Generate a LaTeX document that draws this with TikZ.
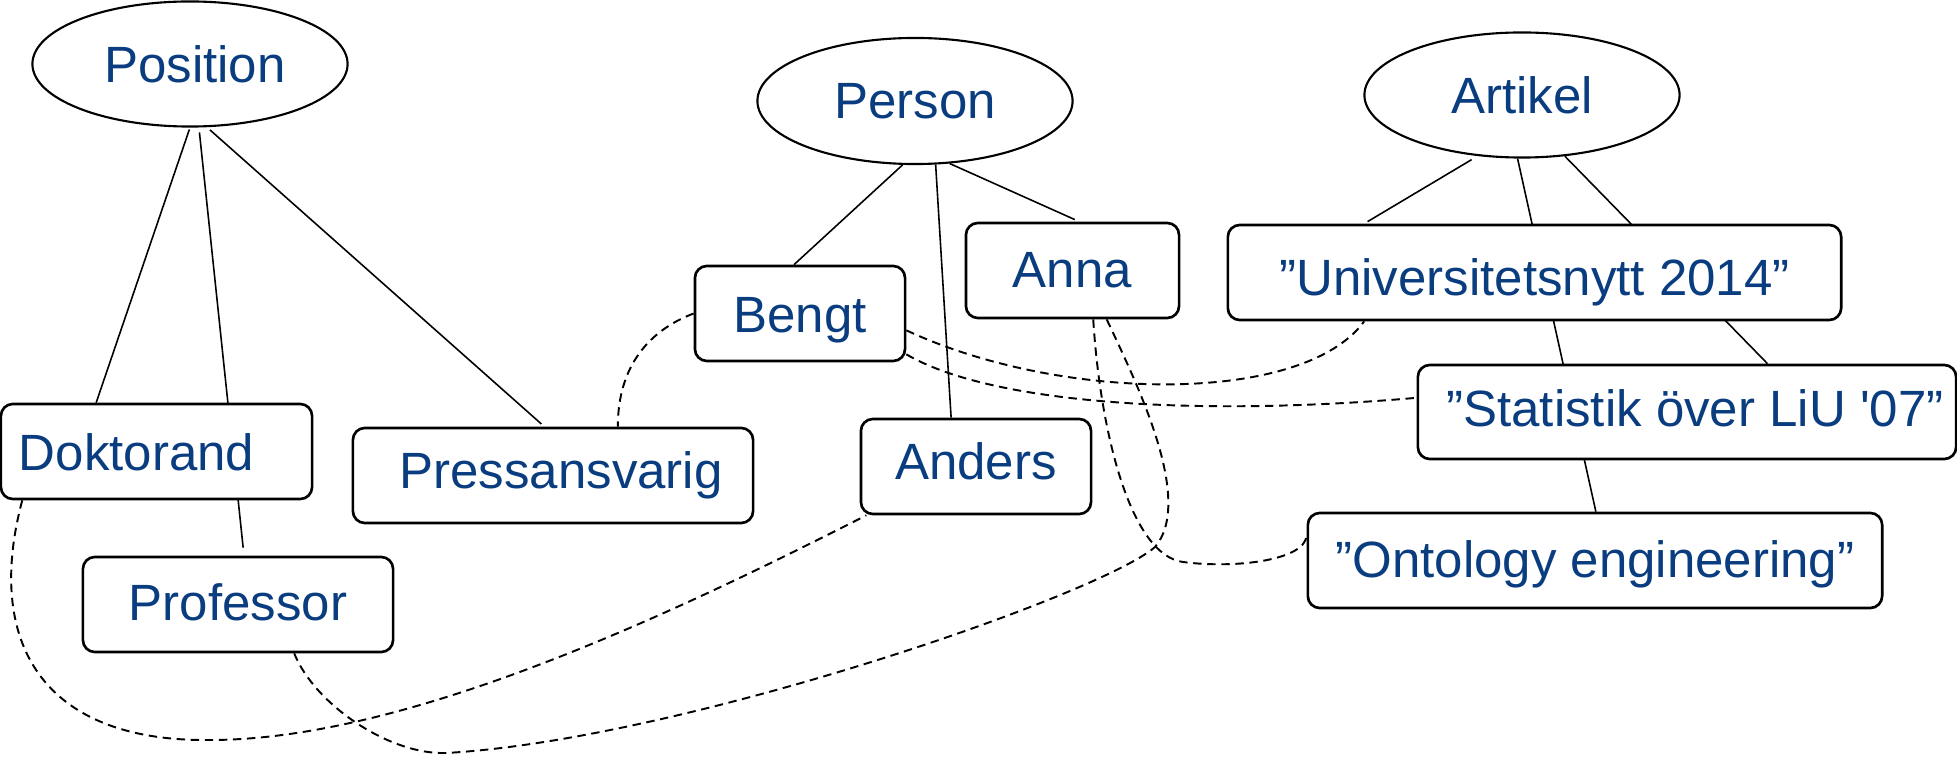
\documentclass[tikz,border=0pt]{standalone}
\usepackage{fontspec}
\newfontfamily\lbl{Liberation Sans}
\usetikzlibrary{shapes.geometric,backgrounds}
\definecolor{lbltext}{HTML}{0A3D7F}
\begin{document}
\begin{tikzpicture}[x=0.01cm,y=-0.01cm,
  every node/.style={font=\lbl\fontsize{14.5pt}{17pt}\selectfont, text=lbltext},
  klass/.style={ellipse, draw=black, line width=0.6pt, fill=white, inner sep=0pt,
    minimum width=3.15cm, minimum height=1.25cm},
  inst/.style={rectangle, rounded corners=3.4pt, draw=black, line width=0.75pt,
    fill=white, inner sep=0pt, minimum height=0.95cm,
    text height=0.37cm, text depth=0cm},
  link/.style={draw=black, line width=0.45pt},
  ref/.style={draw=black, line width=0.55pt, dash pattern=on 2.4pt off 1.6pt}
]
\useasboundingbox (0,0) rectangle (1957,758);

% classes
\node[klass] (position) at (190,64) {\hspace{0.1cm}Position};
\node[klass, minimum height=1.26cm] (person) at (915,101) {Person};
\node[klass] (artikel) at (1522,95) {Artikel};

% instances
\node[inst, minimum width=3.11cm, text width=2.75cm, align=left, inner xsep=0.18cm]
  (doktorand) at (156.5,451.5) {Doktorand};
\node[inst, minimum width=3.10cm, text height=0.31cm] (professor) at (238,604.5) {Professor};
\node[inst, minimum width=4.00cm, text height=0.25cm] (press) at (553,475.5) {\hspace{0.16cm}Pressansvarig};
\node[inst, minimum width=2.10cm] (bengt) at (800,313.5) {Bengt};
\node[inst, minimum width=2.13cm, text height=0.33cm] (anna) at (1072.5,270.5) {Anna};
\node[inst, minimum width=2.30cm, text height=0.25cm] (anders) at (976,466.5) {Anders};
\node[inst, minimum width=6.13cm, text height=0.45cm] (univ) at (1534.5,272.5) {”Universitetsnytt 2014”};
\node[inst, minimum width=5.38cm, minimum height=0.94cm, text height=0.28cm] (statistik) at (1687,412)
  {\hspace{0.16cm}”Statistik över LiU '07”};
\node[inst, minimum width=5.74cm, text height=0.33cm] (ontology) at (1595,560.5) {”Ontology engineering”};

\begin{scope}[on background layer]
  % class membership
  \draw[link, shorten <=0.02cm] (position.-90) -- (doktorand.141);
  \draw[link, shorten <=0.05cm, shorten >=0.08cm] (position.-82) -- (professor.83);
  \draw[link, shorten <=0.04cm, shorten >=0.04cm] (position.-75.5) -- (press.100);
  \draw[link] (person.-101) -- (bengt.97);
  \draw[link] (person.-72) -- (anders.117);
  \draw[link, shorten >=0.05cm] (person.-61) -- (anna.82);
  \draw[link, shorten <=0.07cm, shorten >=0.04cm] (artikel.-126) -- (univ.164);
  \draw[link] (artikel.-94) -- (ontology.89);
  \draw[link] (artikel.-55) -- (statistik.31);

  % relations between instances
  \draw[ref] (bengt.west) .. controls +(-45,17) and +(0,-60) .. (press.37.5);
  \draw[ref] (bengt.-9) .. controls +(154,72) and +(-61,84) .. (univ.-164);
  \draw[ref] (bengt.-21.7) .. controls +(85,50) and +(-218,19) .. (statistik.177.7);
  \draw[ref] (anna.-55) .. controls (1135,380) and (1195,500) .. (1155,547)
    .. controls (1100,595) and (680,740) .. (446,753)
    .. controls (390,755) and (315,705) .. (professor.-41);
  \draw[ref] (anna.-67.7) .. controls (1100,430) and (1130,555) .. (1183,562)
    .. controls (1236,569) and (1306,560) .. (ontology.175.5);
  \draw[ref] (doktorand.-160) .. controls (-15,640) and (40,742) .. (210,740)
    .. controls (410,740) and (680,610) .. (anders.-156.6);
\end{scope}
\end{tikzpicture}
\end{document}
